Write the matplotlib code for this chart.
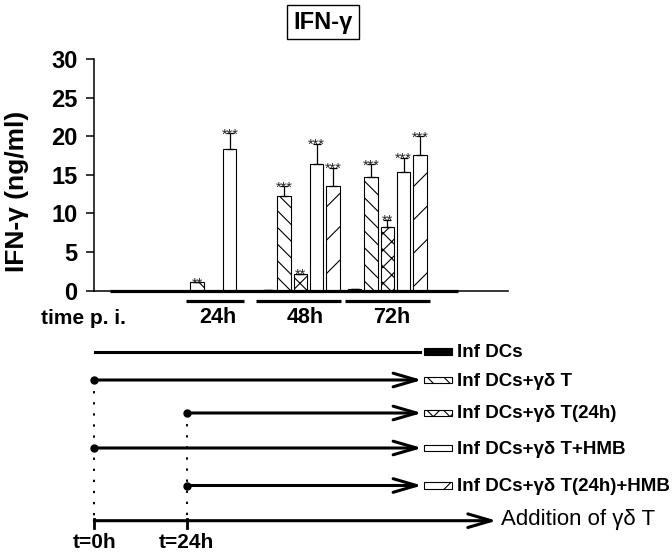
import numpy as np
import matplotlib
matplotlib.use('Agg')
import matplotlib.pyplot as plt
from matplotlib.patches import Rectangle

plt.rcParams['font.family'] = ['Liberation Sans', 'DejaVu Sans']
plt.rcParams['font.weight'] = 'bold'
plt.rcParams['hatch.linewidth'] = 0.8

# Данные
groups = ['24h', '48h', '72h']
series = ['Inf DCs', 'Inf DCs+γδ T', 'Inf DCs+γδ T(24h)',
          'Inf DCs+γδ T+HMB', 'Inf DCs+γδ T(24h)+HMB']

inf_dcs = [0.0, 0.1, 0.2]
inf_gd = [1.1, 12.2, 14.7]
inf_gd24 = [0.0, 2.1, 8.2]
inf_gd_hmb = [18.4, 16.4, 15.4]
inf_gd24_hmb = [0.0, 13.5, 17.6]

err_dcs = [0.0, 0.0, 0.0]
err_gd = [0.0, 1.3, 1.7]
err_gd24 = [0.0, 0.1, 1.0]
err_gd_hmb = [2.0, 2.6, 1.8]
err_gd24_hmb = [0.0, 2.45, 2.4]

stars_dcs = ['', '', '']
stars_gd = ['**', '***', '***']
stars_gd24 = ['', '**', '**']
stars_gd_hmb = ['***', '***', '***']
stars_gd24_hmb = ['', '***', '***']

# время добавления γδ T (None = только DCs)
add_time = [None, 0, 24, 0, 24]
time_ticks = [0, 24]
time_tick_labels = ['t=0h', 't=24h']

values = [inf_dcs, inf_gd, inf_gd24, inf_gd_hmb, inf_gd24_hmb]
errors = [err_dcs, err_gd, err_gd24, err_gd_hmb, err_gd24_hmb]
stars = [stars_dcs, stars_gd, stars_gd24, stars_gd_hmb, stars_gd24_hmb]

# стиль
colors = ['black', 'white', 'white', 'white', 'white']
hatches = ['', '\\\\', 'xx', '', '/']

fig = plt.figure(figsize=(6.72, 5.56), dpi=100)

# --- столбчатая диаграмма ---
ax = fig.add_axes([94/672, 1 - 290.7/556, 414/672, 231.7/556])
x = np.arange(1, len(groups) + 1)
off, w = 0.1885, 0.153

for i in range(len(series)):
    xs = x + (i - 2) * off
    ax.bar(xs, values[i], w, color=colors[i], edgecolor='black',
           hatch=hatches[i], linewidth=0.8, zorder=2)
    ax.errorbar(xs, values[i], yerr=[np.zeros(len(xs)), errors[i]], fmt='none',
                ecolor='black', elinewidth=0.9, capsize=3, capthick=0.9, zorder=2)
    for j, s in enumerate(stars[i]):
        if s:
            ax.annotate(s, xy=(xs[j], values[i][j] + errors[i][j]), xytext=(0, -3.8),
                        textcoords='offset points', ha='center', va='baseline',
                        fontsize=10.5, fontweight='normal', color='#222222')

# толстая базовая линия
ax.plot([-0.189, 3.81], [0, 0], color='black', lw=2.3, clip_on=False,
        solid_capstyle='butt', zorder=3)

ax.set_xlim(-0.372, 4.387)
ax.set_ylim(0, 30)
ax.set_yticks(range(0, 31, 5))
ax.spines['top'].set_visible(False)
ax.spines['right'].set_visible(False)
ax.spines['left'].set_linewidth(1.1)
ax.spines['bottom'].set_linewidth(1.1)
ax.tick_params(axis='y', length=6, width=1.1, pad=6, labelsize=17)
ax.tick_params(axis='x', bottom=False, labelbottom=False)

# подписи времени p.i.
under_lo = [-0.315, -0.51, -0.487]
under_hi = [0.352, 0.467, 0.49]
tr = ax.get_xaxis_transform()
for g, lab, lo, hi in zip(x, groups, under_lo, under_hi):
    ax.plot([g + lo, g + hi], [-0.0466, -0.0466], transform=tr, color='black',
            lw=2.3, clip_on=False, solid_capstyle='butt')
    ax.text(g + 0.05, -0.1178, lab, transform=tr, ha='center', va='center', fontsize=15.5)

fig.text(17/672, 1 - 191/556, 'IFN-γ (ng/ml)', rotation=90, ha='center',
         va='center', fontsize=19)

# --- схема эксперимента ---
dg = fig.add_axes([0, 0, 1, 1])
dg.set_xlim(0, 672)
dg.set_ylim(556, 0)
dg.axis('off')


def hx(h):
    return 94.3 + h * 3.85


row_y = [351.7, 380, 413, 448, 485.5]
axis_y = 520.7
arrow_kw = dict(arrowstyle='->, head_length=1.2, head_width=0.35', lw=2.2,
                color='black', shrinkA=0, shrinkB=0, mutation_scale=14)

dg.text(323, 22, 'IFN-γ', ha='center', va='center', fontsize=17,
        bbox=dict(boxstyle='square,pad=0.25', fc='white', ec='black', lw=1))
dg.text(83.5, 318, 'time p. i.', ha='center', va='center', fontsize=15)

for i, name in enumerate(series):
    y = row_y[i]
    if add_time[i] is None:
        dg.plot([hx(0) + 1, hx(84.6)], [y, y], color='black', lw=2.2)
    else:
        dg.annotate('', xy=(hx(85.1), y), xytext=(hx(add_time[i]), y), arrowprops=arrow_kw)
        dg.plot(hx(add_time[i]), y, 'o', color='black', ms=5)
    dg.add_patch(Rectangle((424, y - 3.3), 28, 6.6, facecolor=colors[i],
                           edgecolor='black', hatch=hatches[i], lw=0.8))
    dg.text(457, y + 1, name, ha='left', va='center', fontsize=13.5)

# пунктирные линии до оси времени
for t in time_ticks:
    y0 = min(row_y[i] for i in range(len(series)) if add_time[i] == t)
    dg.plot([hx(t), hx(t)], [y0, axis_y], color='black', lw=1.4,
            linestyle=(0, (1.2, 4.5)))

dg.annotate('', xy=(hx(104.5), axis_y), xytext=(hx(0), axis_y), arrowprops=arrow_kw)
for t, lab in zip(time_ticks, time_tick_labels):
    dg.plot([hx(t), hx(t)], [axis_y - 2, axis_y + 7], color='black', lw=2)
    dg.text(hx(t), 542, lab, ha='center', va='center', fontsize=15)
dg.text(500.7, 519, 'Addition of γδ T', ha='left', va='center', fontsize=16,
        fontweight='normal')

fig.savefig('out.png', dpi=100)
